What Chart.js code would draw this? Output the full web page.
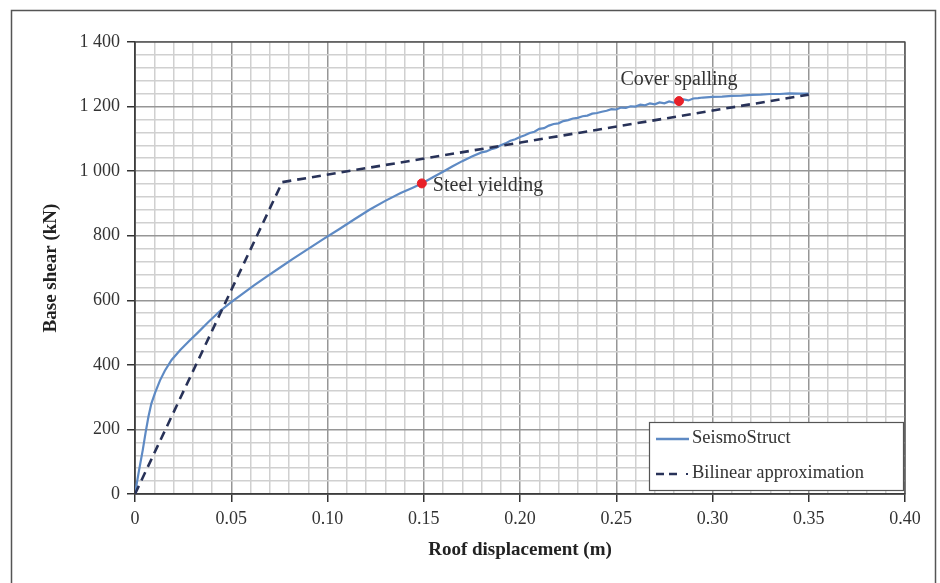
<!DOCTYPE html>
<html lang="en">
<head>
    <meta charset="UTF-8">
    <title>Pushover curve</title>
    <script src="https://cdn.jsdelivr.net/npm/chart.js@4.4.1/dist/chart.umd.min.js"></script>
    <style>
        body { margin: 0; background: #fff; }
        .chart-container { width: 940px; height: 583px; position: relative; }
    </style>
</head>
<body>
    <div class="chart-container">
        <canvas id="pushoverChart"></canvas>
    </div>

    <script>
        // SeismoStruct pushover curve (roof displacement in m, base shear in kN)
        const seismoX = [0, 0.002, 0.004, 0.0055, 0.007, 0.0085, 0.0105, 0.013, 0.0155, 0.019, 0.0235, 0.028,
            0.0325, 0.038, 0.044, 0.050, 0.056, 0.062, 0.068, 0.075, 0.082, 0.090, 0.098, 0.106, 0.114,
            0.122, 0.130, 0.138, 0.144, 0.149, 0.155, 0.160, 0.165, 0.170, 0.175, 0.180, 0.1825, 0.185,
            0.1875, 0.190, 0.1925, 0.195, 0.1975, 0.200, 0.2025, 0.205, 0.2075, 0.210, 0.2125, 0.215,
            0.2175, 0.220, 0.2225, 0.225, 0.2275, 0.230, 0.2325, 0.235, 0.2375, 0.240, 0.2425, 0.245,
            0.2475, 0.250, 0.2525, 0.255, 0.2575, 0.260, 0.2625, 0.265, 0.2675, 0.270, 0.2725, 0.275,
            0.2775, 0.280, 0.2826, 0.285, 0.2875, 0.290, 0.2925, 0.295, 0.300, 0.305, 0.310, 0.315,
            0.320, 0.325, 0.330, 0.335, 0.340, 0.345, 0.350];
        const seismoY = [0, 70, 135, 190, 240, 280, 315, 352, 382, 415, 446, 473,
            499, 532, 566, 594, 621, 647, 672, 700, 728, 759, 790, 820, 851,
            881, 908, 932, 948, 962, 982, 998, 1015, 1031, 1045, 1058, 1061, 1068,
            1072, 1080, 1086, 1094, 1099, 1106, 1111, 1118, 1122, 1131, 1133, 1141,
            1146, 1148, 1155, 1158, 1163, 1165, 1170, 1172, 1178, 1180, 1184, 1187,
            1192, 1191, 1197, 1196, 1201, 1200, 1206, 1204, 1210, 1207, 1213, 1210,
            1216, 1212, 1217, 1222, 1219, 1225, 1226, 1228, 1230, 1231, 1233, 1234,
            1236, 1237, 1239, 1239, 1241, 1240, 1240];

        // Bilinear approximation
        const bilinearX = [0, 0.0765, 0.350];
        const bilinearY = [0, 966, 1237];

        // Marked events
        const eventNames = ['Steel yielding', 'Cover spalling'];
        const eventX = [0.149, 0.2826];
        const eventY = [962, 1217];

        const seriesNames = ['SeismoStruct', 'Bilinear approximation'];
        const xTickLabels = ['0', '0.05', '0.10', '0.15', '0.20', '0.25', '0.30', '0.35', '0.40'];
        const yTickLabels = ['0', '200', '400', '600', '800', '1 000', '1 200', '1 400'];

        const blue = 'rgb(94, 138, 196)';
        const navy = 'rgb(40, 50, 88)';
        const red = 'rgb(232, 32, 40)';
        const serif = "'Liberation Serif', 'Times New Roman', serif";

        const toPoints = (xs, ys) => xs.map((x, i) => ({ x: x, y: ys[i] }));

        function isMajorX(v) { return Math.round(v * 100) % 5 === 0; }
        function isMajorY(v) { return Math.round(v) % 200 === 0; }

        // frame, plot border, annotations and legend box
        const decorPlugin = {
            id: 'decor',
            beforeDraw(chart) {
                const ctx = chart.ctx;
                ctx.save();
                ctx.strokeStyle = '#555';
                ctx.lineWidth = 1.5;
                ctx.strokeRect(11.5, 10.5, 924, 620);
                ctx.restore();
            },
            beforeDatasetsDraw(chart) {
                const { ctx, chartArea } = chart;
                ctx.save();
                ctx.strokeStyle = '#444';
                ctx.lineWidth = 1.2;
                ctx.strokeRect(chartArea.left, chartArea.top, chartArea.right - chartArea.left, chartArea.bottom - chartArea.top);
                ctx.restore();
            },
            afterDatasetsDraw(chart) {
                const { ctx, scales } = chart;
                const xs = scales.x, ys = scales.y;
                ctx.save();
                ctx.fillStyle = '#333';
                ctx.font = '20px ' + serif;
                ctx.textBaseline = 'middle';
                // Steel yielding - to the right of marker
                ctx.textAlign = 'left';
                ctx.fillText(eventNames[0], xs.getPixelForValue(eventX[0]) + 11, ys.getPixelForValue(eventY[0]) + 2);
                // Cover spalling - above marker
                ctx.textAlign = 'center';
                ctx.fillText(eventNames[1], xs.getPixelForValue(eventX[1]), ys.getPixelForValue(eventY[1]) - 21);

                // legend box
                const bx = 649, by = 422, bw = 254, bh = 68;
                ctx.fillStyle = '#fff';
                ctx.fillRect(bx, by, bw, bh);
                ctx.strokeStyle = '#555';
                ctx.lineWidth = 1.2;
                ctx.strokeRect(bx + 0.5, by + 0.5, bw, bh);

                ctx.lineWidth = 2.5;
                ctx.strokeStyle = blue;
                ctx.beginPath();
                ctx.moveTo(656, 439);
                ctx.lineTo(689, 439);
                ctx.stroke();

                ctx.strokeStyle = navy;
                ctx.setLineDash([8, 5]);
                ctx.beginPath();
                ctx.moveTo(656, 474);
                ctx.lineTo(682, 474);
                ctx.stroke();
                ctx.setLineDash([]);
                ctx.fillStyle = navy;
                ctx.fillRect(686, 473, 2, 2);

                ctx.fillStyle = '#333';
                ctx.font = '18.5px ' + serif;
                ctx.textAlign = 'left';
                ctx.fillText(seriesNames[0], 692, 438);
                ctx.fillText(seriesNames[1], 692, 473);
                ctx.restore();
            }
        };

        const ctx = document.getElementById('pushoverChart').getContext('2d');
        const pushoverChart = new Chart(ctx, {
            type: 'scatter',
            data: {
                datasets: [
                    {
                        label: seriesNames[0],
                        data: toPoints(seismoX, seismoY),
                        showLine: true,
                        borderColor: blue,
                        borderWidth: 2.2,
                        pointRadius: 0,
                        tension: 0,
                        order: 2
                    },
                    {
                        label: seriesNames[1],
                        data: toPoints(bilinearX, bilinearY),
                        showLine: true,
                        borderColor: navy,
                        borderWidth: 2.6,
                        borderDash: [9, 6],
                        pointRadius: 0,
                        order: 1
                    },
                    {
                        label: 'Events',
                        data: toPoints(eventX, eventY),
                        showLine: false,
                        pointRadius: 4.5,
                        pointBackgroundColor: red,
                        pointBorderColor: red,
                        order: 0
                    }
                ]
            },
            options: {
                responsive: true,
                maintainAspectRatio: false,
                animation: false,
                layout: {
                    padding: { left: 0, top: 42, right: 35, bottom: 0 }
                },
                scales: {
                    x: {
                        type: 'linear',
                        min: 0,
                        max: 0.4,
                        afterFit(scale) { scale.height = 89; },
                        border: { display: true, color: '#333', width: 1.5 },
                        grid: {
                            color: c => isMajorX(c.tick.value) ? 'rgb(150,150,150)' : 'rgb(208,208,208)',
                            lineWidth: 1.5,
                            tickLength: 8,
                            tickColor: c => isMajorX(c.tick.value) ? '#333' : 'rgba(0,0,0,0)',
                            tickWidth: 1.5
                        },
                        ticks: {
                            stepSize: 0.01,
                            autoSkip: false,
                            maxRotation: 0,
                            padding: 6,
                            color: '#333',
                            font: { family: serif, size: 18 },
                            callback: v => isMajorX(v) ? xTickLabels[Math.round(v * 20)] : ''
                        },
                        title: {
                            display: true,
                            text: 'Roof displacement (m)',
                            color: '#222',
                            font: { family: serif, size: 19, weight: 'bold' },
                            padding: { top: 0, bottom: 22 }
                        }
                    },
                    y: {
                        type: 'linear',
                        min: 0,
                        max: 1400,
                        afterFit(scale) { scale.width = 135; },
                        border: { display: true, color: '#333', width: 1.5 },
                        grid: {
                            color: c => isMajorY(c.tick.value) ? 'rgb(150,150,150)' : 'rgb(208,208,208)',
                            lineWidth: 1.5,
                            tickLength: 8,
                            tickColor: c => isMajorY(c.tick.value) ? '#333' : 'rgba(0,0,0,0)',
                            tickWidth: 1.5
                        },
                        ticks: {
                            stepSize: 40,
                            autoSkip: false,
                            padding: 7,
                            color: '#333',
                            font: { family: serif, size: 18 },
                            callback: v => isMajorY(v) ? yTickLabels[Math.round(v / 200)] : ''
                        },
                        title: {
                            display: true,
                            text: 'Base shear (kN)',
                            color: '#222',
                            font: { family: serif, size: 19, weight: 'bold' },
                            padding: { top: 40, bottom: 0 }
                        }
                    }
                },
                plugins: {
                    legend: { display: false },
                    tooltip: { enabled: false }
                }
            },
            plugins: [decorPlugin]
        });
    </script>
</body>
</html>
